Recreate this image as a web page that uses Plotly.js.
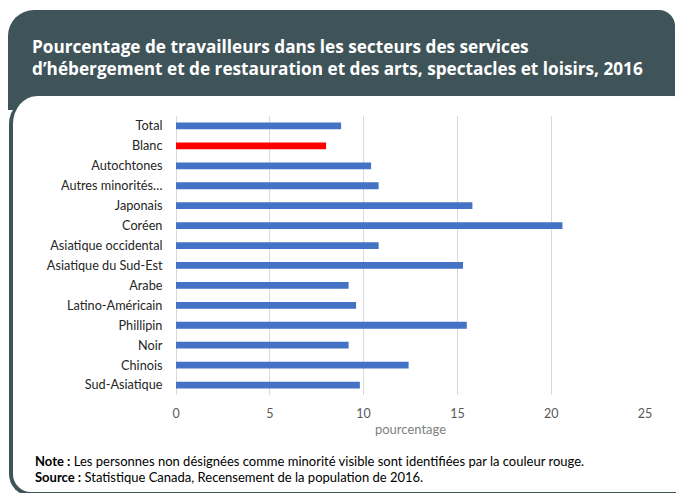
<!DOCTYPE html>
<html>
<head>
<meta charset="utf-8">
<script src="https://cdn.plot.ly/plotly-3.0.1.min.js"></script>
<style>
  html, body { margin: 0; padding: 0; background: #ffffff; }
  #wrap { position: relative; width: 676px; height: 493px; overflow: hidden; }
  #dark { position: absolute; left: 8px; top: 10px; width: 667px; height: 100px;
          background: #3f5459; border-radius: 26px 16px 0 0; }
  #white { position: absolute; left: 9px; top: 96px; width: 680px; height: 400px; box-sizing: border-box;
           background: #ffffff; border-left: 4px solid #3f5459; border-bottom: 4px solid #3f5459;
           border-radius: 28px 16px 0 22px; }
  #chart { position: absolute; left: 0; top: 0; width: 676px; height: 493px; }
</style>
</head>
<body>
<div id="wrap">
  <div id="dark"></div>
  <div id="white"></div>
  <div id="chart"></div>
</div>
<script>
const categories = ["Total", "Blanc", "Autochtones", "Autres minorités…", "Japonais", "Coréen",
  "Asiatique occidental", "Asiatique du Sud-Est", "Arabe", "Latino-Américain", "Phillipin",
  "Noir", "Chinois", "Sud-Asiatique"];
const values = [8.8, 8.0, 10.4, 10.8, 15.8, 20.6, 10.8, 15.3, 9.2, 9.6, 15.5, 9.2, 12.4, 9.8];
const barColors = ["#4472c4", "#ff0000", "#4472c4", "#4472c4", "#4472c4", "#4472c4", "#4472c4",
  "#4472c4", "#4472c4", "#4472c4", "#4472c4", "#4472c4", "#4472c4", "#4472c4"];
const xTicks = [0, 5, 10, 15, 20, 25];

const W = 676, H = 493;
const L = 176, R = 645, T = 116, B = 395;
const px = x => (x - L) / (R - L);
const py = y => (B - y) / (B - T);

const trace = {
  type: 'bar',
  orientation: 'h',
  y: categories,
  x: values,
  marker: { color: barColors },
  width: 0.34,
  hoverinfo: 'none'
};

const layout = {
  width: W, height: H,
  paper_bgcolor: 'rgba(0,0,0,0)',
  plot_bgcolor: 'rgba(0,0,0,0)',
  margin: { l: L, r: W - R, t: T, b: H - B, pad: 0 },
  showlegend: false,
  title: {
    text: "<b>Pourcentage de travailleurs dans les secteurs des services<br>d’hébergement et de restauration et des arts, spectacles et loisirs, 2016</b>",
    font: { family: "Open Sans", size: 17.2, color: "#ffffff" },
    xref: 'container', yref: 'container',
    x: 32 / W, xanchor: 'left',
    y: 1 - 53 / H, yanchor: 'middle'
  },
  xaxis: {
    range: [0, 25],
    tickvals: xTicks,
    ticktext: xTicks.map(String),
    showgrid: true, gridcolor: '#d9d9d9', gridwidth: 1,
    zeroline: true, zerolinecolor: '#d9d9d9', zerolinewidth: 1,
    showline: false,
    ticks: 'outside', ticklen: 7, tickcolor: 'rgba(0,0,0,0)',
    tickfont: { family: "Lato", size: 12.5, color: "#595959" },
    title: { text: "pourcentage", font: { family: "Lato", size: 13, color: "#7f7f7f" }, standoff: 4 },
    fixedrange: true
  },
  yaxis: {
    type: 'category',
    autorange: 'reversed',
    showgrid: false, zeroline: false, showline: false,
    ticks: 'outside', ticklen: 10, tickcolor: 'rgba(0,0,0,0)',
    tickfont: { family: "Lato", size: 12.7, color: "#262626" },
    fixedrange: true
  },
  annotations: [
    { xref: 'paper', yref: 'paper', x: px(33), y: py(461), xanchor: 'left', yanchor: 'middle',
      showarrow: false, align: 'left',
      text: "<b>Note :</b> Les personnes non désignées comme minorité visible sont identifiées par la couleur rouge.",
      font: { family: "Lato", size: 13, color: "#000000" } },
    { xref: 'paper', yref: 'paper', x: px(33), y: py(477), xanchor: 'left', yanchor: 'middle',
      showarrow: false, align: 'left',
      text: "<b>Source :</b> Statistique Canada, Recensement de la population de 2016.",
      font: { family: "Lato", size: 13, color: "#000000" } }
  ]
};

Plotly.newPlot('chart', [trace], layout, { displayModeBar: false, staticPlot: true });
</script>
</body>
</html>
